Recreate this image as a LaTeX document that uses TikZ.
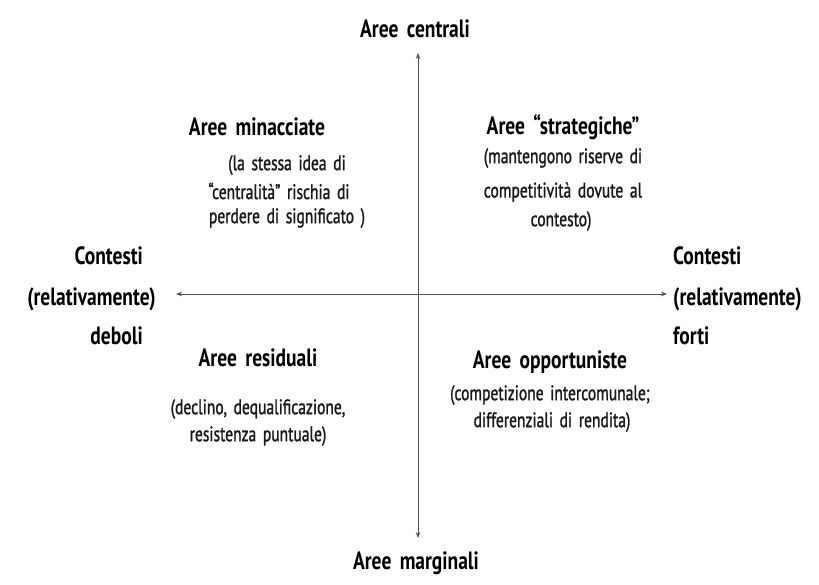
\documentclass[tikz,border=0pt]{standalone}
\usepackage{fontspec}
\setmainfont{PT Sans}[FakeStretch=0.8, WordSpace=1.6]
\newfontfamily\titlefont{PT Sans Bold}[FakeStretch=0.78, WordSpace=1.7]
\newfontfamily\bodyfont{PT Sans}[FakeStretch=0.74, WordSpace=1.6, FakeBold=1.2]
\usetikzlibrary{arrows.meta}
\definecolor{axisgray}{HTML}{505050}
\tikzset{
  title/.style={font=\fontsize{25}{28}\titlefont, inner sep=0pt, text=black},
  body/.style={font=\fontsize{21}{26}\bodyfont, inner sep=0pt, text=black!90},
  axis/.style={draw=axisgray, line width=0.8pt, {Stealth[length=6pt,width=4.5pt]}-{Stealth[length=6pt,width=4.5pt]}}
}
\begin{document}
\begin{tikzpicture}[x=1pt,y=-1pt]
\useasboundingbox (0,0) rectangle (819,584);
\fill[white] (0,0) rectangle (819,584);
% axes
\coordinate (top) at (418,53);
\coordinate (bot) at (418,538);
\coordinate (lft) at (176,294);
\coordinate (rgt) at (667,294);
\draw[axis] (bot) -- (top);
\draw[axis] (lft) -- (rgt);
% axis labels
\node[title] (tc) at (415,29) {Aree centrali};
\node[title] (bm) at (416,563) {Aree marginali};
\node[title, anchor=east] (l1) at (143,256) {Contesti};
\node[title, anchor=east] (l2) at (156,299) {(relativamente)};
\node[title, anchor=east] (l3) at (143,336) {deboli};
\node[title, anchor=west] (r1) at (673,256) {Contesti};
\node[title, anchor=west] (r2) at (673,299) {(relativamente)};
\node[title, anchor=west] (r3) at (673,336) {forti};
% top-left
\node[title] (q1t) at (257,127) {Aree minacciate};
\node[body] (q1a) at (287,165) {(la stessa idea di};
\node[body] (q1b) at (279,191) {“centralità” rischia di};
\node[body] (q1c) at (287,218) {perdere di significato )};
% top-right
\node[title] (q2t) at (563,127) {Aree “strategiche”};
\node[body] (q2a) at (563,158) {(mantengono riserve di};
\node[body] (q2b) at (563,192) {competitività dovute al};
\node[body] (q2c) at (561,221) {contesto)};
% bottom-left
\node[title] (q3t) at (258,358) {Aree residuali};
\node[body] (q3a) at (258,409) {(declino, dequalificazione,};
\node[body] (q3b) at (258,436) {resistenza puntuale)};
% bottom-right
\node[title] (q4t) at (550,362) {Aree opportuniste};
\node[body] (q4a) at (550,395) {(competizione intercomunale;};
\node[body] (q4b) at (552,422) {differenziali di rendita)};
\end{tikzpicture}
\end{document}
